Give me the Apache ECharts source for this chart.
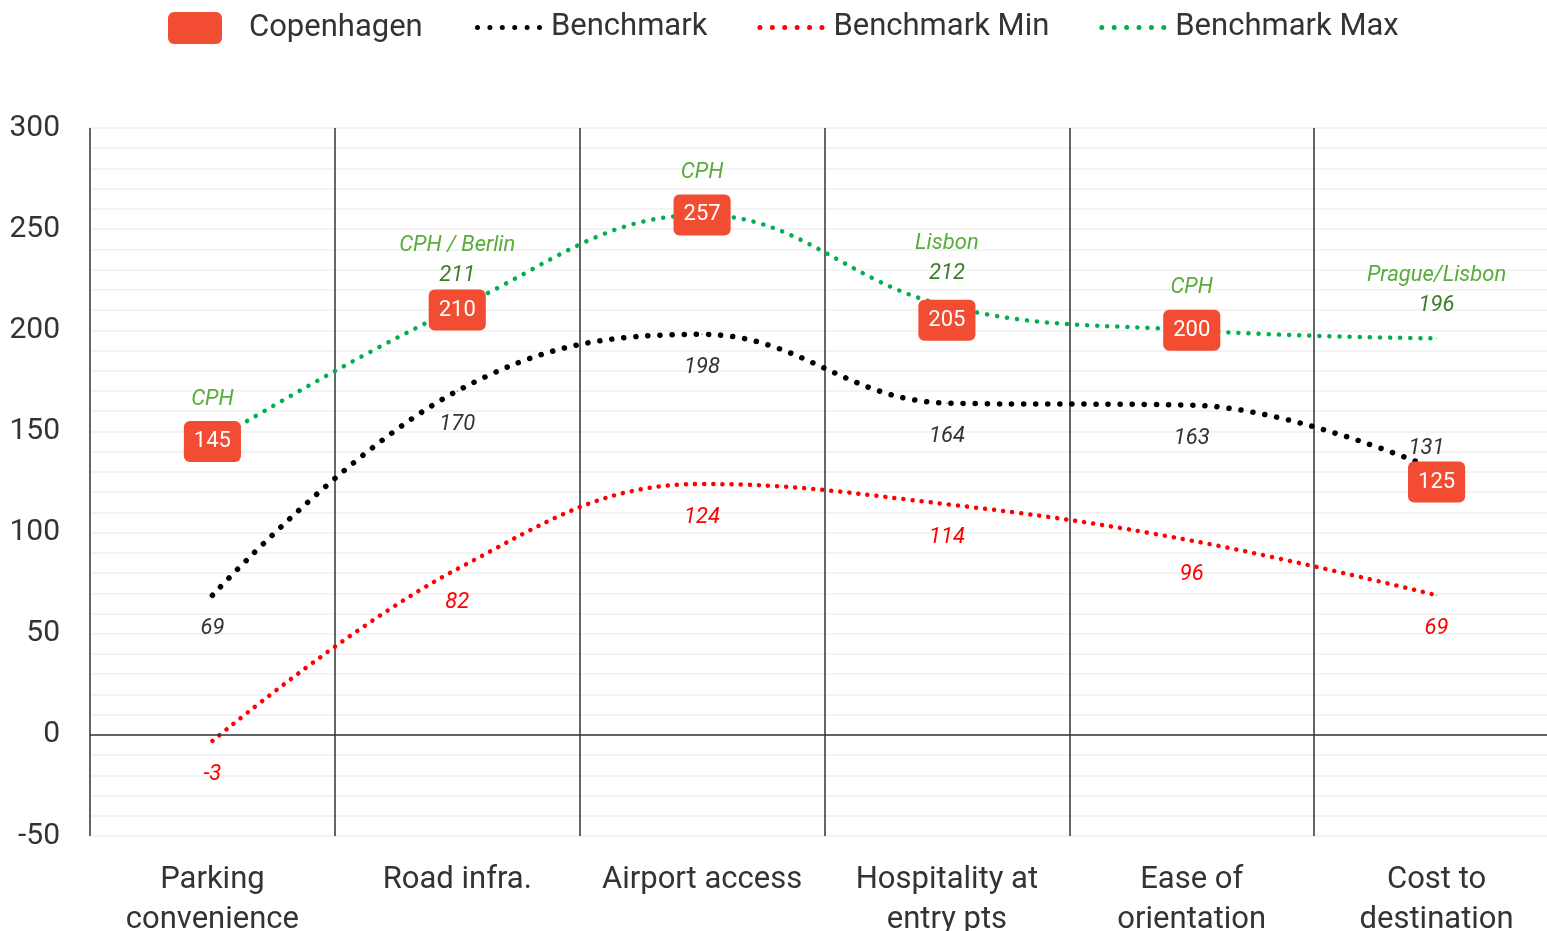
<!DOCTYPE html>
<html>
<head>
<meta charset="utf-8">
<script src="https://cdn.jsdelivr.net/npm/echarts@6/dist/echarts.min.js"></script>
<style>html,body{margin:0;padding:0;background:#fff;}#c{width:1547px;height:931px;}</style>
</head>
<body>
<div id="c"></div>
<script>
const categories = ['Parking\nconvenience', 'Road infra.', 'Airport access', 'Hospitality at\nentry pts', 'Ease of\norientation', 'Cost to\ndestination'];
const copenhagen = [145, 210, 257, 205, 200, 125];
const benchmark = [69, 170, 198, 164, 163, 131];
const benchmarkMin = [-3, 82, 124, 114, 96, 69];
const benchmarkMax = [145, 211, 257, 212, 200, 196];
const maxLeaders = ['CPH', 'CPH / Berlin', 'CPH', 'Lisbon', 'CPH', 'Prague/Lisbon'];
const yTicks = [-50, 0, 50, 100, 150, 200, 250, 300];

const FONT = 'Roboto, "Liberation Sans", sans-serif';
const chart = echarts.init(document.getElementById('c'));

function dotsPath(n, step, r) {
  let d = '';
  for (let k = 0; k < n; k++) {
    const cx = r + k * step;
    d += 'M' + (cx - r) + ',' + r + 'a' + r + ',' + r + ' 0 1,0 ' + (2 * r) + ',0a' + r + ',' + r + ' 0 1,0 ' + (-2 * r) + ',0Z';
  }
  return 'path://' + d;
}
const DOTS = dotsPath(6, 12.4, 2.5);

const maxData = benchmarkMax.map((v, i) => {
  const sameAsCph = v === copenhagen[i];
  return { value: v, label: { distance: sameAsCph ? 27 : 17 } };
});
const benchData = benchmark.map((v, i) => {
  const clash = copenhagen[i] < v && v - copenhagen[i] < 15;
  return clash ? { value: v, label: { position: 'top', distance: 10, offset: [-10, 0] } } : v;
});

chart.setOption({
  animation: false,
  textStyle: { fontFamily: FONT },
  legend: [
    {
      data: [{ name: 'Copenhagen', icon: 'path://M6,0H48A6,6 0 0 1 54,6V26A6,6 0 0 1 48,32H6A6,6 0 0 1 0,26V6A6,6 0 0 1 6,0Z' }],
      left: 163, top: 7,
      itemWidth: 54, itemHeight: 32,
      itemStyle: { borderWidth: 0, color: '#f24c32' },
      textStyle: { fontSize: 31, color: '#333', fontFamily: FONT, padding: [0, 0, 0, 22] }
    },
    {
      data: [
        { name: 'Benchmark', icon: DOTS },
        { name: 'Benchmark Min', icon: DOTS },
        { name: 'Benchmark Max', icon: DOTS }
      ],
      left: 470, top: 7,
      itemWidth: 67, itemHeight: 5, itemGap: 50,
      itemStyle: { borderWidth: 0 },
      textStyle: { fontSize: 31, color: '#333', fontFamily: FONT, padding: [0, 0, 0, 4] }
    }
  ],
  grid: { left: 90, width: 1469, top: 128, bottom: 95, outerBoundsMode: 'none', containLabel: false },
  xAxis: {
    type: 'category',
    data: categories,
    boundaryGap: true,
    axisLine: { show: false, onZero: false },
    axisTick: { show: false },
    axisLabel: { fontSize: 31, color: '#333', lineHeight: 40, margin: 24, interval: 0, fontFamily: FONT },
    splitLine: { show: true, interval: 0, lineStyle: { color: '#333', width: 1.5 } }
  },
  yAxis: {
    type: 'value',
    min: yTicks[0], max: yTicks[yTicks.length - 1], interval: 50,
    axisLine: { show: false },
    axisTick: { show: false },
    axisLabel: { fontSize: 30, color: '#333', margin: 30, fontFamily: FONT },
    splitLine: { lineStyle: { color: '#efefef', width: 1.5 } },
    minorTick: { show: false, splitNumber: 5 },
    minorSplitLine: { show: true, lineStyle: { color: '#efefef', width: 1.5 } }
  },
  series: [
    {
      name: 'Benchmark Min',
      type: 'line',
      data: benchmarkMin,
      smooth: 0.4,
      symbol: 'circle', symbolSize: 1, showSymbol: true,
      lineStyle: { color: '#ff0000', width: 4.5, type: [0.1, 9], cap: 'round' },
      itemStyle: { color: '#ff0000' },
      label: { show: true, position: 'bottom', distance: 22, fontSize: 22, fontStyle: 'italic', color: '#ff0000', fontFamily: FONT },
      markLine: {
        silent: true, symbol: 'none', label: { show: false },
        lineStyle: { color: '#333', width: 1.5, type: 'solid' },
        data: [{ yAxis: 0 }]
      },
      z: 3
    },
    {
      name: 'Benchmark',
      type: 'line',
      data: benchData,
      smooth: 0.4,
      symbol: 'circle', symbolSize: 1, showSymbol: true,
      lineStyle: { color: '#000', width: 5.5, type: [0.1, 12], cap: 'round' },
      itemStyle: { color: '#000' },
      label: { show: true, position: 'bottom', distance: 22, fontSize: 22, fontStyle: 'italic', color: '#333', fontFamily: FONT },
      z: 3
    },
    {
      name: 'Benchmark Max',
      type: 'line',
      data: maxData,
      smooth: 0.4,
      symbol: 'circle', symbolSize: 1, showSymbol: true,
      lineStyle: { color: '#00b050', width: 4.5, type: [0.1, 10], cap: 'round' },
      itemStyle: { color: '#00b050' },
      label: {
        show: true, position: 'top',
        formatter: p => {
          const i = p.dataIndex;
          if (benchmarkMax[i] === copenhagen[i]) return '{n|' + maxLeaders[i] + '}';
          return '{n|' + maxLeaders[i] + '}\n{v|' + benchmarkMax[i] + '}';
        },
        rich: {
          n: { fontSize: 22, fontStyle: 'italic', color: '#5aac3c', lineHeight: 30, fontFamily: FONT },
          v: { fontSize: 22, fontStyle: 'italic', color: '#3b7d2b', lineHeight: 30, fontFamily: FONT }
        }
      },
      z: 3
    },
    {
      name: 'Copenhagen',
      type: 'scatter',
      data: copenhagen,
      symbol: 'circle',
      symbolSize: 0,
      itemStyle: { color: '#f24c32', opacity: 1 },
      label: {
        show: true, position: 'inside', color: '#fff', fontSize: 22, fontFamily: FONT,
        backgroundColor: '#f24c32', borderRadius: 6, padding: [10, 10, 9, 10], lineHeight: 22
      },
      z: 5
    }
  ]
});
</script>
</body>
</html>
